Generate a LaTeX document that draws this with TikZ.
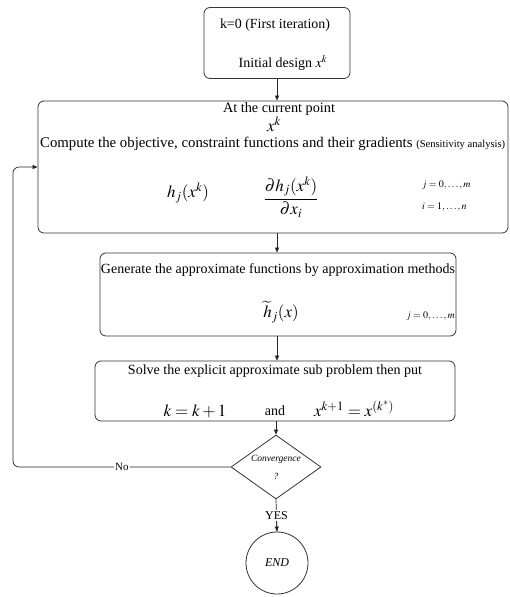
\documentclass[tikz,border=0pt]{standalone}
\usepackage{mathptmx}
\usepackage{graphicx}
\usepackage{fontspec}
\setmainfont{Liberation Serif}
\usetikzlibrary{shapes.geometric,arrows.meta}
\tikzset{
  boxnode/.style={draw=black!80, line width=0.8pt, rounded corners=6pt, inner sep=0pt},
  txt/.style={inner sep=0pt, font=\fontsize{14}{16}\selectfont},
  small/.style={inner sep=0pt, font=\fontsize{10}{12}\selectfont},
  bigmath/.style={inner sep=0pt, font=\fontsize{17}{19}\selectfont},
  conn/.style={draw=black!85, line width=0.7pt, -{Triangle[length=5pt,width=4pt]}},
  lin/.style={draw=black!85, line width=0.7pt},
}
\begin{document}
\begin{tikzpicture}[x=1pt,y=-1pt]
\useasboundingbox (0,0) rectangle (510,597);
% boxes
\node[boxnode, minimum width=146pt, minimum height=71pt] (b1) at (277,43) {};
\node[boxnode, minimum width=470pt, minimum height=132pt] (b2) at (273,167) {};
\node[boxnode, minimum width=356pt, minimum height=83pt] (b3) at (278,294.5) {};
\node[boxnode, minimum width=360pt, minimum height=60pt] (b4) at (275,391) {};
\node[draw=black!80, line width=0.8pt, diamond, aspect=1.4, minimum width=90pt, minimum height=64pt, inner sep=0pt] (d) at (276,467) {};
\node[draw=black!80, line width=0.8pt, circle, minimum size=62pt, inner sep=0pt] (e) at (277,563) {};
% texts box 1
\node[txt] (t1a) at (275,25) {\resizebox{110pt}{!}{k=0 (First iteration)}};
\node[txt] (t1b) at (283,63) {Initial design $x^{k}$};
% texts box 2
\node[txt] (t2a) at (279,109) {\resizebox{112pt}{!}{At the current point}};
\node[bigmath] (t2b) at (274,124) {$x^{k}$};
\node[txt, anchor=west] (t2c) at (40,144) {\resizebox{465pt}{!}{Compute the objective, constraint functions and their gradients {\fontsize{10}{12}\selectfont(Sensitivity analysis)}}};
\node[bigmath] (t2d) at (188,193) {$h_j(x^k)$};
\node[bigmath] (t2e) at (291,197) {$\displaystyle\frac{\partial h_j(x^k)}{\partial x_i}$};
\node[small, anchor=west] (t2f) at (422,185) {$j=0,\ldots,m$};
\node[small, anchor=west] (t2g) at (422,207) {$i=1,\ldots,n$};
% texts box 3
\node[txt] (t3a) at (278,270) {\resizebox{354pt}{!}{Generate the approximate functions by approximation methods}};
\node[bigmath] (t3b) at (281,312) {$\widetilde{h}_j(x)$};
\node[small, anchor=east] (t3c) at (455,316) {$j=0,\ldots,m$};
% texts box 4
\node[txt] (t4a) at (275,371) {\resizebox{294pt}{!}{Solve the explicit approximate sub problem then put}};
\node[bigmath] (t4b) at (195,411) {$k=k+1$};
\node[txt] (t4c) at (275,411) {and};
\node[bigmath] (t4d) at (354,409) {$x^{k+1}=x^{(k^{*})}$};
% diamond / end texts
\node[inner sep=0pt, font=\fontsize{9.5}{11}\selectfont\itshape] (dc) at (276,459) {Convergence};
\node[inner sep=0pt, font=\fontsize{9.5}{11}\selectfont\itshape] (dq) at (276,476) {?};
\node[inner sep=0pt, font=\fontsize{12}{14}\selectfont\itshape] (et) at (e) {END};
% connectors
\draw[conn] (b1.south) -- (b1.south |- b2.north);
\draw[conn] (b2.south -| b1.south) coordinate (c2) -- (c2 |- b3.north);
\draw[conn] (b3.south -| b1.south) coordinate (c3) -- (c3 |- b4.north);
\draw[conn] (b4.south -| d.north) -- (d.north);
\draw[lin] (d.south) -- node[fill=white, inner sep=1pt, font=\fontsize{12}{14}\selectfont] (yes) {YES} (e.north);
\draw[conn] (yes.south) -- (e.north);
\coordinate (lp1) at (13,467);
\coordinate (lp2) at (13,167);
\draw[conn, rounded corners=6pt] (d.west) -- node[fill=white, inner sep=1pt, font=\fontsize{11}{13}\selectfont] (no) {No} (lp1) -- (lp2) -- (b2.west |- lp2);
\end{tikzpicture}
\end{document}
